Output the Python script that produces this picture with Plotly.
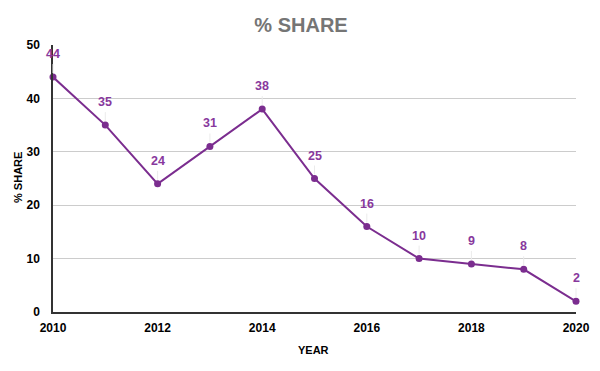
import plotly.graph_objects as go

years = [2010, 2011, 2012, 2013, 2014, 2015, 2016, 2017, 2018, 2019, 2020]
share = [44, 35, 24, 31, 38, 25, 16, 10, 9, 8, 2]
x_ticks = [2010, 2012, 2014, 2016, 2018, 2020]
y_ticks = [0, 10, 20, 30, 40, 50]

purple = "#7b2d8f"
label_purple = "#88389d"
font = "Liberation Sans, Arial, sans-serif"

fig = go.Figure()
fig.add_trace(go.Scatter(
    x=years, y=share, mode="lines+markers",
    line=dict(color=purple, width=2),
    marker=dict(color=purple, size=7),
    hoverinfo="skip", showlegend=False, cliponaxis=False,
))

for x, y in zip(years, share):
    fig.add_annotation(
        x=x, y=y, text=f"<b>{y}</b>", showarrow=True,
        arrowhead=0, arrowwidth=1, arrowcolor="#ebebeb",
        ax=0, ay=-14, standoff=4, startstandoff=1,
        font=dict(family=font, size=12.5, color=label_purple),
        yanchor="bottom",
    )

fig.add_annotation(text="<b>YEAR</b>", xref="paper", yref="paper", x=0.499, y=-0.142,
                   showarrow=False, font=dict(family=font, size=11, color="#000000"),
                   xanchor="center", yanchor="middle")
fig.add_annotation(text="<b>% SHARE</b>", xref="paper", yref="paper", x=-0.0669, y=0.502,
                   showarrow=False, textangle=-90, font=dict(family=font, size=11, color="#000000"),
                   xanchor="center", yanchor="middle")

fig.update_layout(
    width=592, height=363,
    margin=dict(l=45, r=24, t=37, b=59, autoexpand=False),
    paper_bgcolor="white", plot_bgcolor="white",
    title=dict(text="<b>% SHARE</b>", x=0.495, xanchor="center", yref="container", y=0.953, yanchor="middle",
               font=dict(family=font, size=20, color="#757575")),
    xaxis=dict(
        range=[2010, 2020], tickvals=x_ticks, ticktext=[f"<b>{v}</b>" for v in x_ticks],
        showgrid=False, showline=True, linecolor="#333333", linewidth=1.5,
        zeroline=False, ticks="", automargin=False, ticklabelstandoff=4,
        tickfont=dict(family=font, size=12, color="#000000"),
    ),
    yaxis=dict(
        range=[0, 50], tickvals=y_ticks, ticktext=[f"<b>{v}</b>" for v in y_ticks],
        showgrid=True, gridcolor="#cccccc", gridwidth=1,
        showline=True, linecolor="#333333", linewidth=1.5,
        zeroline=False, ticks="", automargin=False, ticklabelstandoff=9,
        tickfont=dict(family=font, size=12, color="#000000"),
    ),
)

fig.write_html("out.html")
